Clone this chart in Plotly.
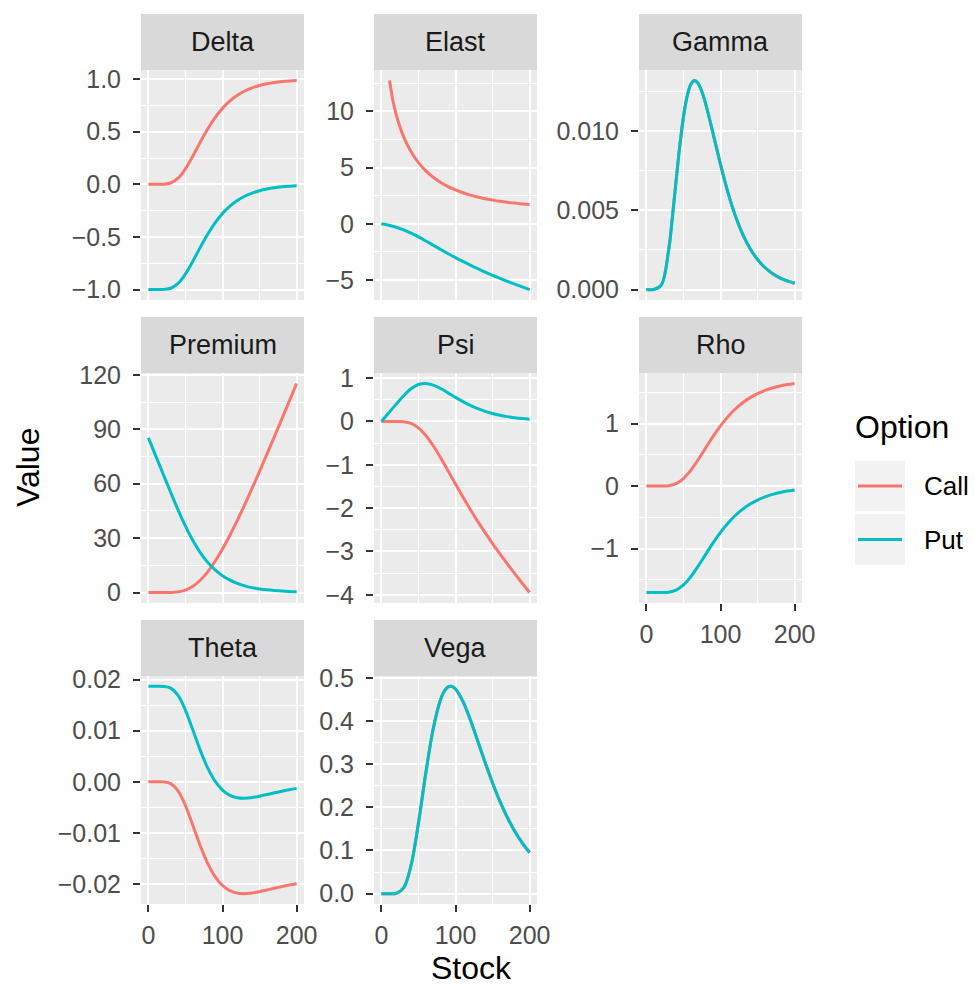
import plotly.graph_objects as go

W, H = 975, 985
FONT = "Liberation Sans, Arial, sans-serif"
CALL_COLOR = "#F8766D"
PUT_COLOR = "#00BFC4"

# ---------------- data ----------------
STOCK = [0, 10, 20, 30, 40, 50, 60, 70, 80, 90, 100,
         110, 120, 130, 140, 150, 160, 170, 180, 190, 200]

DELTA_CALL = [0, 0, 0.0007, 0.0123, 0.0582, 0.1481, 0.2694, 0.4007, 0.5252, 0.6334, 0.7222,
              0.7922, 0.8459, 0.8864, 0.9166, 0.9388, 0.9552, 0.9671, 0.9759, 0.9822, 0.9869]
DELTA_PUT = [-1, -1, -0.9993, -0.9877, -0.9418, -0.8519, -0.7306, -0.5993, -0.4748, -0.3666, -0.2778,
             -0.2078, -0.1541, -0.1136, -0.0834, -0.0612, -0.0448, -0.0329, -0.0241, -0.0178, -0.0131]

ELAST_CALL_STOCK = [11, 15, 20, 30, 40, 50, 60, 70, 80, 90, 100,
                    110, 120, 130, 140, 150, 160, 170, 180, 190, 200]
ELAST_CALL = [12.75, 11.15, 9.70, 7.73, 6.41, 5.44, 4.71, 4.14, 3.68, 3.31, 3.01,
              2.76, 2.55, 2.38, 2.23, 2.11, 2.00, 1.91, 1.84, 1.77, 1.71]
ELAST_PUT = [0, -0.133, -0.306, -0.536, -0.827, -1.165, -1.530, -1.907, -2.283, -2.651, -3.007,
             -3.350, -3.678, -3.991, -4.291, -4.579, -4.854, -5.120, -5.367, -5.608, -5.849]

GAMMA_STOCK = [0, 10, 20, 30, 35, 40, 45, 50, 55, 60, 65, 70, 75, 80, 90, 100,
               110, 120, 130, 140, 150, 160, 170, 180, 190, 200]
GAMMA = [0, 0.0000008, 0.000277, 0.002502, 0.004545, 0.006848, 0.009060, 0.010899, 0.012217,
         0.012972, 0.013210, 0.013014, 0.012488, 0.011731, 0.009857, 0.007904,
         0.006138, 0.004662, 0.003488, 0.002583, 0.001900, 0.001392, 0.001018, 0.000743,
         0.000543, 0.000397]

PREMIUM_CALL = [0, 0, 0.001, 0.048, 0.363, 1.361, 3.431, 6.781, 11.422, 17.231, 24.025,
                31.611, 39.814, 48.486, 57.508, 66.790, 76.264, 85.878, 95.596, 105.388, 115.234]
PREMIUM_PUT = [85.214, 75.214, 65.216, 55.262, 45.577, 36.575, 28.645, 21.994, 16.636, 12.445, 9.239,
               6.825, 5.028, 3.700, 2.722, 2.004, 1.478, 1.092, 0.810, 0.602, 0.448]

PSI_CALL = [0, 0, -0.0003, -0.0074, -0.0465, -0.1481, -0.3232, -0.5610, -0.8404, -1.1402, -1.4443,
            -1.7427, -2.0302, -2.3047, -2.5664, -2.8165, -3.0565, -3.2882, -3.5131, -3.7325, -3.9476]
PSI_PUT = [0, 0.2, 0.3997, 0.5926, 0.7535, 0.8519, 0.8768, 0.8390, 0.7596, 0.6598, 0.5557,
           0.4573, 0.3698, 0.2953, 0.2336, 0.1835, 0.1435, 0.1118, 0.0869, 0.0675, 0.0524]

RHO_CALL = [0, 0, 0.0002, 0.0064, 0.0393, 0.1209, 0.2546, 0.4254, 0.6119, 0.7956, 0.9638,
            1.1105, 1.2339, 1.3350, 1.4162, 1.4807, 1.5312, 1.5706, 1.6011, 1.6247, 1.6429]
RHO_PUT = [-1.7043, -1.7043, -1.7040, -1.6979, -1.6650, -1.5834, -1.4497, -1.2789, -1.0924, -0.9087, -0.7405,
           -0.5938, -0.4704, -0.3693, -0.2881, -0.2236, -0.1731, -0.1337, -0.1032, -0.0796, -0.0614]

THETA_CALL = [0, 0, -0.00002, -0.00035, -0.00178, -0.00468, -0.00855, -0.01252, -0.01596, -0.01856, -0.02031,
              -0.02133, -0.02180, -0.02190, -0.02176, -0.02150, -0.02118, -0.02084, -0.02052, -0.02022, -0.01996]
THETA_PUT = [0.01868, 0.01868, 0.01866, 0.01833, 0.01690, 0.01399, 0.01013, 0.00615, 0.00272, 0.00012, -0.00163,
             -0.00265, -0.00312, -0.00322, -0.00309, -0.00282, -0.00250, -0.00216, -0.00184, -0.00155, -0.00129]

VEGA_STOCK = [0, 10, 20, 30, 40, 50, 60, 70, 80, 85, 90, 95, 100,
              110, 120, 130, 140, 150, 160, 170, 180, 190, 200]
VEGA = [0, 0, 0.00067, 0.01351, 0.06574, 0.16348, 0.28020, 0.38261, 0.45045, 0.46948, 0.47911,
        0.48030, 0.47423, 0.44560, 0.40281, 0.35369, 0.30377, 0.25655, 0.21385, 0.17649,
        0.14451, 0.11766, 0.09535]

PANEL_NAMES = ["Delta", "Elast", "Gamma", "Premium", "Psi", "Rho", "Theta", "Vega"]
SERIES_NAMES = ["Call", "Put"]

PANEL_DATA = {
    "Delta": ((STOCK, DELTA_CALL), (STOCK, DELTA_PUT)),
    "Elast": ((ELAST_CALL_STOCK, ELAST_CALL), (STOCK, ELAST_PUT)),
    "Gamma": ((GAMMA_STOCK, GAMMA), (GAMMA_STOCK, GAMMA)),
    "Premium": ((STOCK, PREMIUM_CALL), (STOCK, PREMIUM_PUT)),
    "Psi": ((STOCK, PSI_CALL), (STOCK, PSI_PUT)),
    "Rho": ((STOCK, RHO_CALL), (STOCK, RHO_PUT)),
    "Theta": ((STOCK, THETA_CALL), (STOCK, THETA_PUT)),
    "Vega": ((VEGA_STOCK, VEGA), (VEGA_STOCK, VEGA)),
}
# major tick step and label format per panel
Y_TICKS = {
    "Delta": (0.5, ".1f"), "Elast": (5, "d"), "Gamma": (0.005, ".3f"),
    "Premium": (30, "d"), "Psi": (1, "d"), "Rho": (1, "d"),
    "Theta": (0.01, ".2f"), "Vega": (0.1, ".1f"),
}
X_TICKS = [0, 100, 200]

# ---------------- layout geometry (pixels) ----------------
COLS = [(141, 304), (374, 537), (639, 802)]
ROWS = [(14, 70, 300), (317, 373, 603), (620, 676, 904)]  # strip top, plot top, plot bottom
POS = {"Delta": (0, 0), "Elast": (0, 1), "Gamma": (0, 2),
       "Premium": (1, 0), "Psi": (1, 1), "Rho": (1, 2),
       "Theta": (2, 0), "Vega": (2, 1)}
BOTTOM = {"Theta", "Vega", "Rho"}

fx = lambda px: px / W
fy = lambda py: 1 - py / H

TICK_SIZE = 25
STRIP_SIZE = 27
TITLE_SIZE = 32
LINE_W = 3

fig = go.Figure()
layout = dict(
    width=W, height=H, autosize=False,
    margin=dict(l=0, r=0, t=0, b=0, pad=0, autoexpand=False),
    paper_bgcolor="white", plot_bgcolor="#EBEBEB", showlegend=False,
    font=dict(family=FONT),
)
shapes, annotations = [], []

for i, name in enumerate(PANEL_NAMES, start=1):
    r, c = POS[name]
    x0, x1 = COLS[c]
    st, pt, pb = ROWS[r]
    xs = "x" if i == 1 else f"x{i}"
    ys = "y" if i == 1 else f"y{i}"
    (xc, yc), (xp, yp) = PANEL_DATA[name]
    fig.add_trace(go.Scatter(x=xc, y=yc, mode="lines", name="Call", xaxis=xs, yaxis=ys,
                             line=dict(color=CALL_COLOR, width=LINE_W, shape="spline")))
    fig.add_trace(go.Scatter(x=xp, y=yp, mode="lines", name="Put", xaxis=xs, yaxis=ys,
                             line=dict(color=PUT_COLOR, width=LINE_W, shape="spline")))

    allv = list(yc) + list(yp)
    lo, hi = min(allv), max(allv)
    R = hi - lo
    dt, fmt = Y_TICKS[name]
    is_bottom = name in BOTTOM

    layout["xaxis" if i == 1 else f"xaxis{i}"] = dict(
        domain=[fx(x0), fx(x1)], anchor=ys, range=[-10, 210], automargin=False,
        tickmode="array", tickvals=X_TICKS, ticktext=[str(v) for v in X_TICKS],
        showticklabels=is_bottom, ticks="outside" if is_bottom else "",
        ticklen=7, tickwidth=2, tickcolor="#333333",
        tickfont=dict(size=TICK_SIZE, color="#4D4D4D", family=FONT), ticklabelstandoff=2,
        showgrid=True, gridcolor="white", gridwidth=2.4,
        minor=dict(tickmode="array", tickvals=[50, 150], showgrid=True,
                   gridcolor="white", gridwidth=1.2, ticks=""),
        zeroline=False, showline=False, fixedrange=True,
    )
    layout["yaxis" if i == 1 else f"yaxis{i}"] = dict(
        domain=[fy(pb), fy(pt)], anchor=xs, range=[lo - 0.05 * R, hi + 0.05 * R],
        automargin=False,
        tickmode="linear", tick0=0, dtick=dt, tickformat=fmt,
        ticks="outside", ticklen=7, tickwidth=2, tickcolor="#333333",
        tickfont=dict(size=TICK_SIZE, color="#4D4D4D", family=FONT), ticklabelstandoff=7,
        showgrid=True, gridcolor="white", gridwidth=2.4,
        minor=dict(tick0=0, dtick=dt / 2, showgrid=True, gridcolor="white",
                   gridwidth=1.2, ticks=""),
        zeroline=False, showline=False, fixedrange=True,
    )
    # strip
    shapes.append(dict(type="rect", xref="paper", yref="paper",
                       x0=fx(x0), x1=fx(x1), y0=fy(pt), y1=fy(st),
                       fillcolor="#D9D9D9", line=dict(width=0), layer="below"))
    annotations.append(dict(text=name, xref="paper", yref="paper",
                            x=fx((x0 + x1) / 2), y=fy((st + pt) / 2),
                            xanchor="center", yanchor="middle", showarrow=False,
                            font=dict(size=STRIP_SIZE, color="#1A1A1A", family=FONT)))

# axis titles
annotations.append(dict(text="Value", xref="paper", yref="paper", x=fx(28), y=fy(468),
                        textangle=-90, xanchor="center", yanchor="middle", showarrow=False,
                        font=dict(size=TITLE_SIZE, color="black", family=FONT)))
annotations.append(dict(text="Stock", xref="paper", yref="paper", x=fx(471), y=fy(968),
                        xanchor="center", yanchor="middle", showarrow=False,
                        font=dict(size=TITLE_SIZE, color="black", family=FONT)))

# legend (drawn manually, ggplot style)
annotations.append(dict(text="Option", xref="paper", yref="paper", x=fx(853), y=fy(427),
                        xanchor="left", yanchor="middle", showarrow=False,
                        font=dict(size=TITLE_SIZE, color="black", family=FONT)))
KEYS = [(SERIES_NAMES[0], CALL_COLOR, 461, 511), (SERIES_NAMES[1], PUT_COLOR, 514, 565)]
for label, col, k0, k1 in KEYS:
    shapes.append(dict(type="rect", xref="paper", yref="paper",
                       x0=fx(855), x1=fx(905), y0=fy(k1), y1=fy(k0),
                       fillcolor="#F2F2F2", line=dict(width=0)))
    ym = (k0 + k1) / 2
    shapes.append(dict(type="line", xref="paper", yref="paper",
                       x0=fx(858), x1=fx(902), y0=fy(ym), y1=fy(ym),
                       line=dict(color=col, width=LINE_W)))
    annotations.append(dict(text=label, xref="paper", yref="paper", x=fx(922), y=fy(ym),
                            xanchor="left", yanchor="middle", showarrow=False,
                            font=dict(size=26, color="black", family=FONT)))

layout["shapes"] = shapes
layout["annotations"] = annotations
fig.update_layout(**layout)
fig.write_html("out.html")
